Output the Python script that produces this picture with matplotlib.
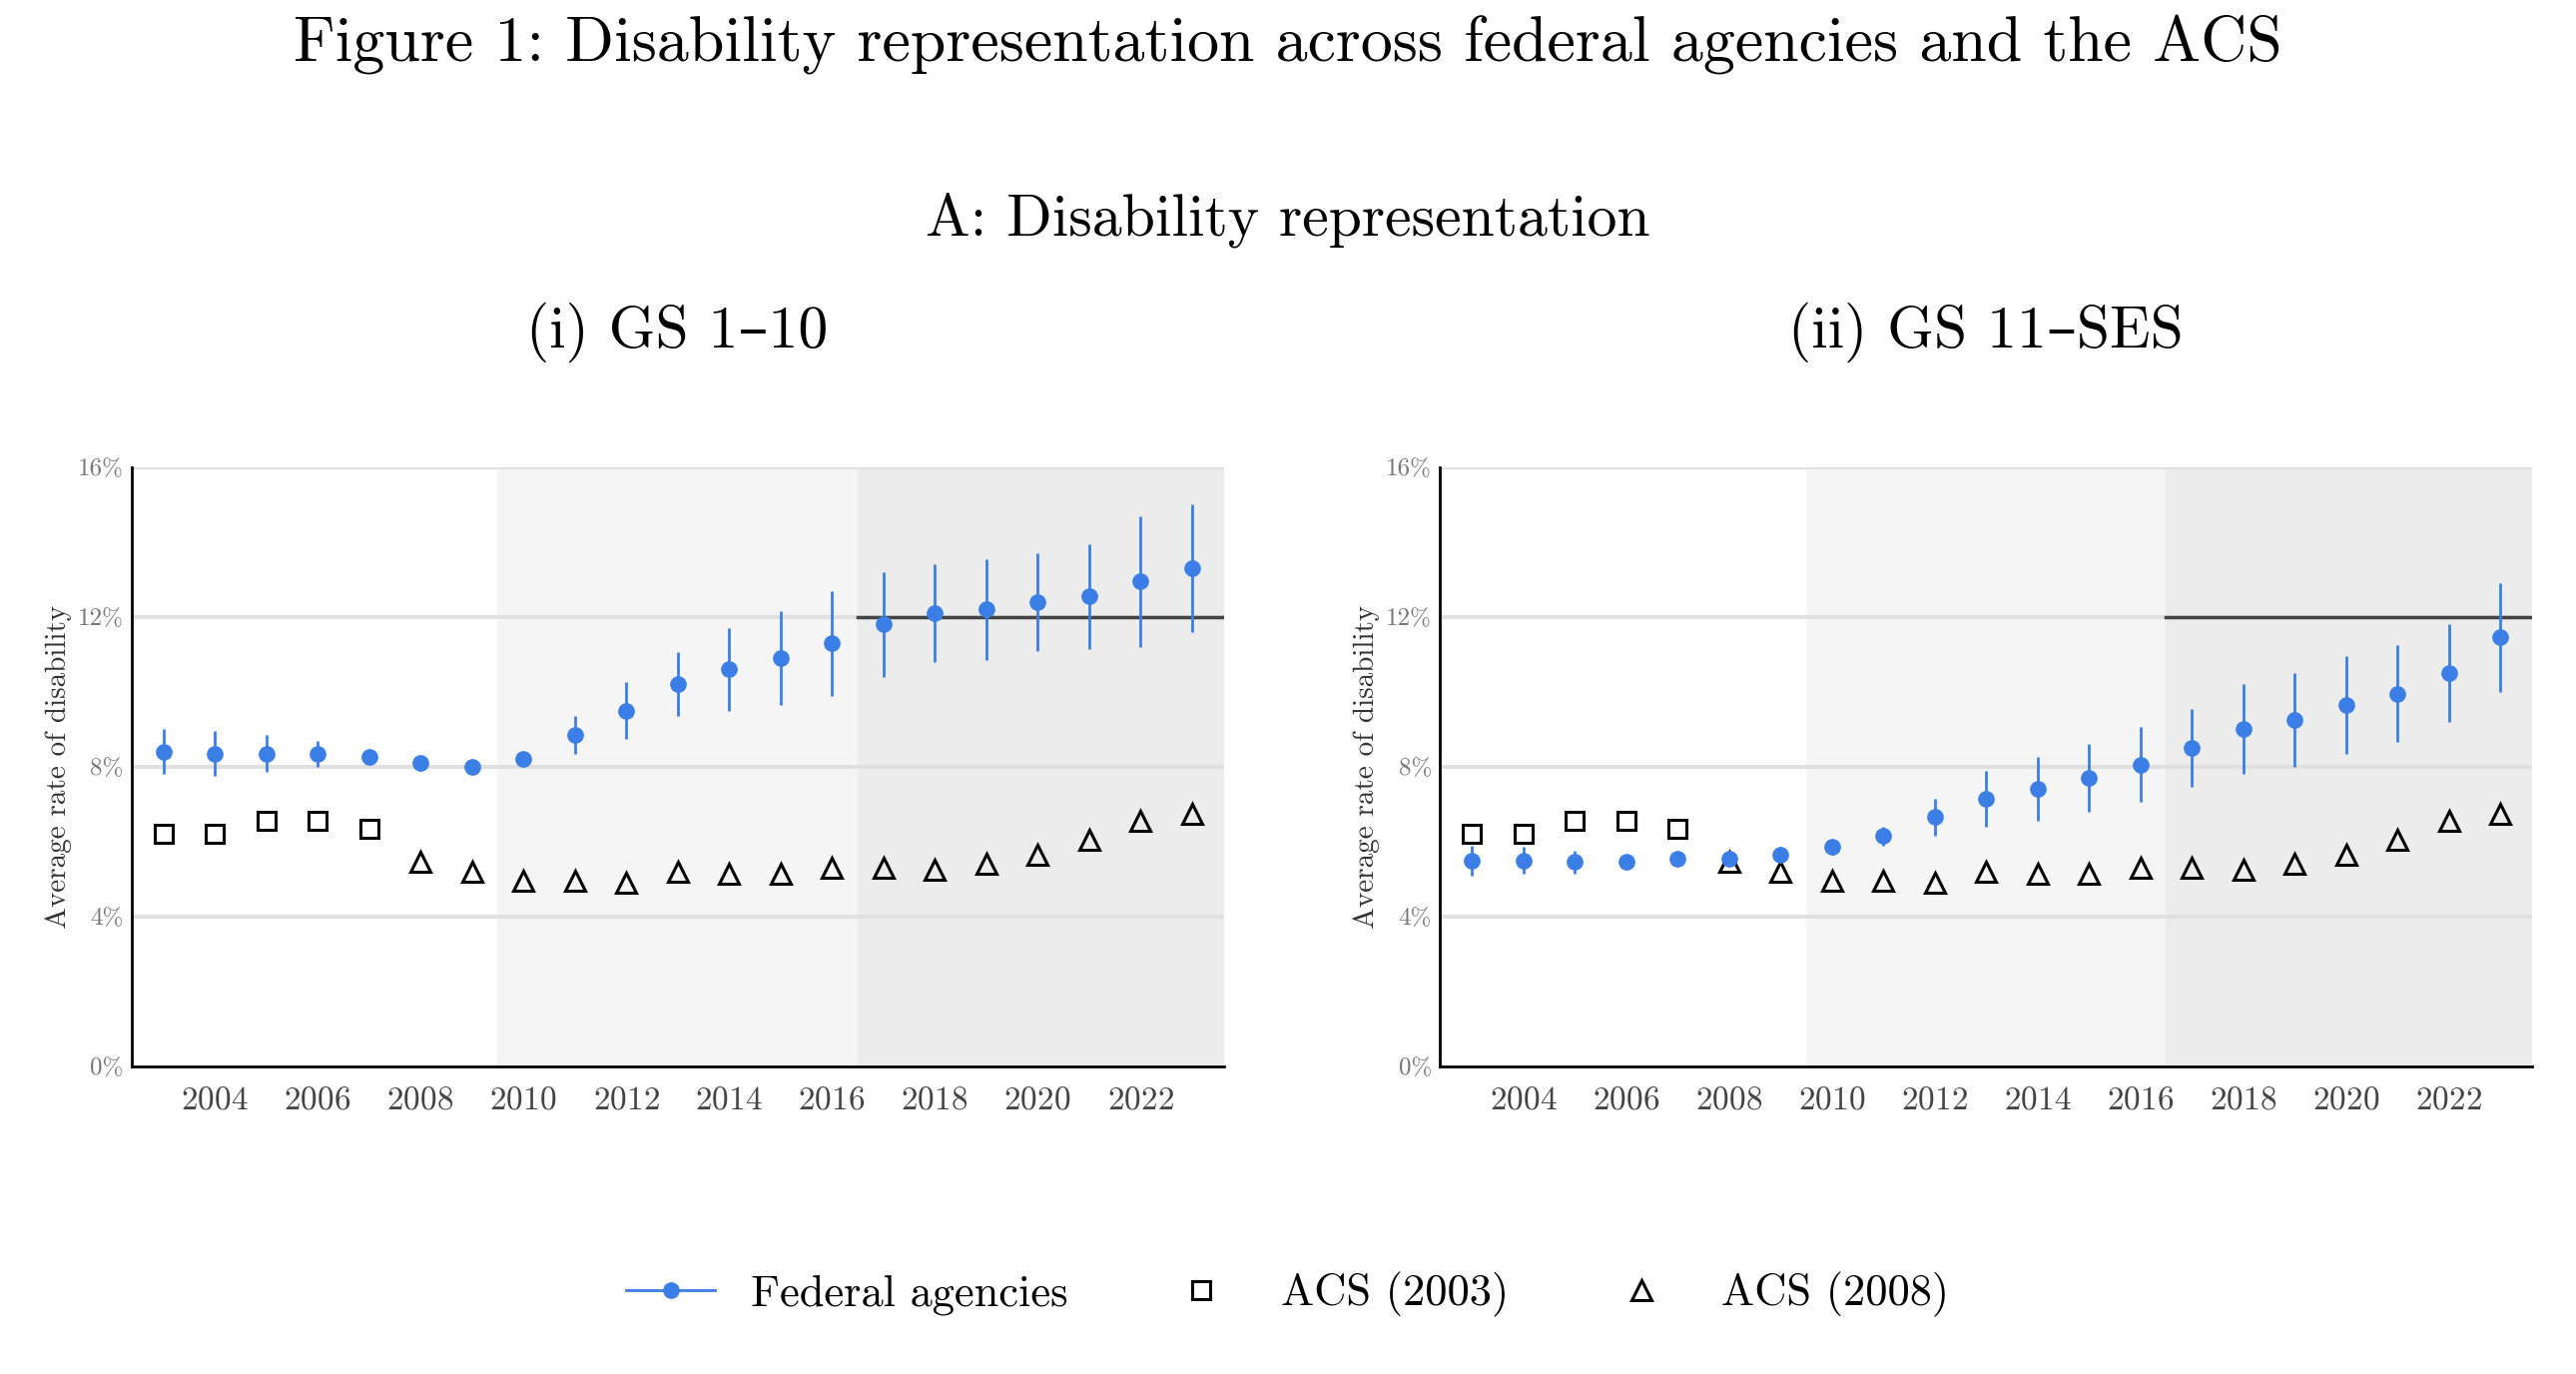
import matplotlib
matplotlib.use("Agg")
import matplotlib.pyplot as plt
from matplotlib.lines import Line2D

plt.rcParams['font.family'] = ['cmr10', 'DejaVu Serif']
plt.rcParams['mathtext.fontset'] = 'cm'
plt.rcParams['axes.formatter.use_mathtext'] = True

years = list(range(2003, 2024))
fed_low = [8.4, 8.35, 8.35, 8.35, 8.25, 8.1, 8.0, 8.2, 8.85, 9.5, 10.2, 10.6, 10.9, 11.3,
           11.8, 12.1, 12.2, 12.4, 12.55, 12.95, 13.3]
err_low = [0.6, 0.6, 0.5, 0.35, 0.15, 0.1, 0.1, 0.15, 0.5, 0.75, 0.85, 1.1, 1.25, 1.4,
           1.4, 1.3, 1.35, 1.3, 1.4, 1.75, 1.7]
fed_high = [5.5, 5.5, 5.45, 5.45, 5.55, 5.55, 5.65, 5.85, 6.15, 6.65, 7.15, 7.4, 7.7, 8.05,
            8.5, 9.0, 9.25, 9.65, 9.95, 10.5, 11.45]
err_high = [0.4, 0.35, 0.3, 0.15, 0.15, 0.2, 0.2, 0.2, 0.25, 0.5, 0.75, 0.85, 0.9, 1.0,
            1.05, 1.2, 1.25, 1.3, 1.3, 1.3, 1.45]
acs03_years = [2003, 2004, 2005, 2006, 2007]
acs03 = [6.2, 6.2, 6.55, 6.55, 6.35]
acs08_years = list(range(2008, 2024))
acs08 = [5.45, 5.2, 4.95, 4.95, 4.9, 5.2, 5.15, 5.15, 5.3, 5.3, 5.25, 5.4, 5.65, 6.05, 6.55, 6.75]

blue = '#3b7fe6'
fig = plt.figure(figsize=(25.8, 13.76), dpi=100)
fig.text(0.5, 0.967, 'Figure 1: Disability representation across federal agencies and the ACS',
         ha='center', va='center', fontsize=46)
fig.text(0.5, 0.84, 'A: Disability representation', ha='center', va='center', fontsize=43)

panels = [([0.051, 0.224, 0.424, 0.436], '(i) GS 1–10', fed_low, err_low),
          ([0.559, 0.224, 0.424, 0.436], '(ii) GS 11–SES', fed_high, err_high)]
for rect, title, fed, err in panels:
    ax = fig.add_axes(rect)
    ax.set_xlim(2002.38, 2023.62)
    ax.set_ylim(0, 16)
    ax.axvspan(2009.5, 2016.5, color='#f5f5f5', zorder=0, lw=0)
    ax.axvspan(2016.5, 2023.62, color='#ececec', zorder=0, lw=0)
    for g in [4, 8, 12, 16]:
        ax.axhline(g, color='#e0e0e0', lw=3, zorder=1)
    ax.plot([2016.5, 2023.62], [12, 12], color='#444444', lw=2.5, zorder=2)
    ax.errorbar(years, fed, yerr=err, fmt='o', color=blue, ms=11, elinewidth=2, zorder=4)
    ax.plot(acs03_years, acs03, 's', mfc='none', mec='black', mew=2.2, ms=13, zorder=3)
    ax.plot(acs08_years, acs08, '^', mfc='none', mec='black', mew=2.2, ms=15, zorder=3)
    ax.set_xticks(range(2004, 2023, 2))
    ax.set_yticks([0, 4, 8, 12, 16])
    ax.set_yticklabels(['0%', '4%', '8%', '12%', '16%'], color='#777777', fontsize=18)
    ax.tick_params(axis='x', labelsize=24, colors='#444444', length=0, pad=14)
    ax.tick_params(axis='y', length=0, pad=6)
    for s in ['top', 'right']:
        ax.spines[s].set_visible(False)
    ax.spines['left'].set_linewidth(2)
    ax.spines['bottom'].set_linewidth(2)
    ax.set_ylabel('Average rate of disability', fontsize=21, color='#333333')
    fig.text(rect[0] + rect[2] / 2, 0.758, title, ha='center', va='center', fontsize=43)

handles = [Line2D([], [], color=blue, marker='o', ms=11, lw=2),
           Line2D([], [], ls='none', marker='s', mfc='none', mec='black', mew=2.2, ms=13),
           Line2D([], [], ls='none', marker='^', mfc='none', mec='black', mew=2.2, ms=15)]
fig.legend(handles, ['Federal agencies', 'ACS (2003)', 'ACS (2008)'], loc='center',
           bbox_to_anchor=(0.5, 0.058), ncol=3, frameon=False, fontsize=32, columnspacing=2.0)
fig.savefig('out.png', dpi=100)
